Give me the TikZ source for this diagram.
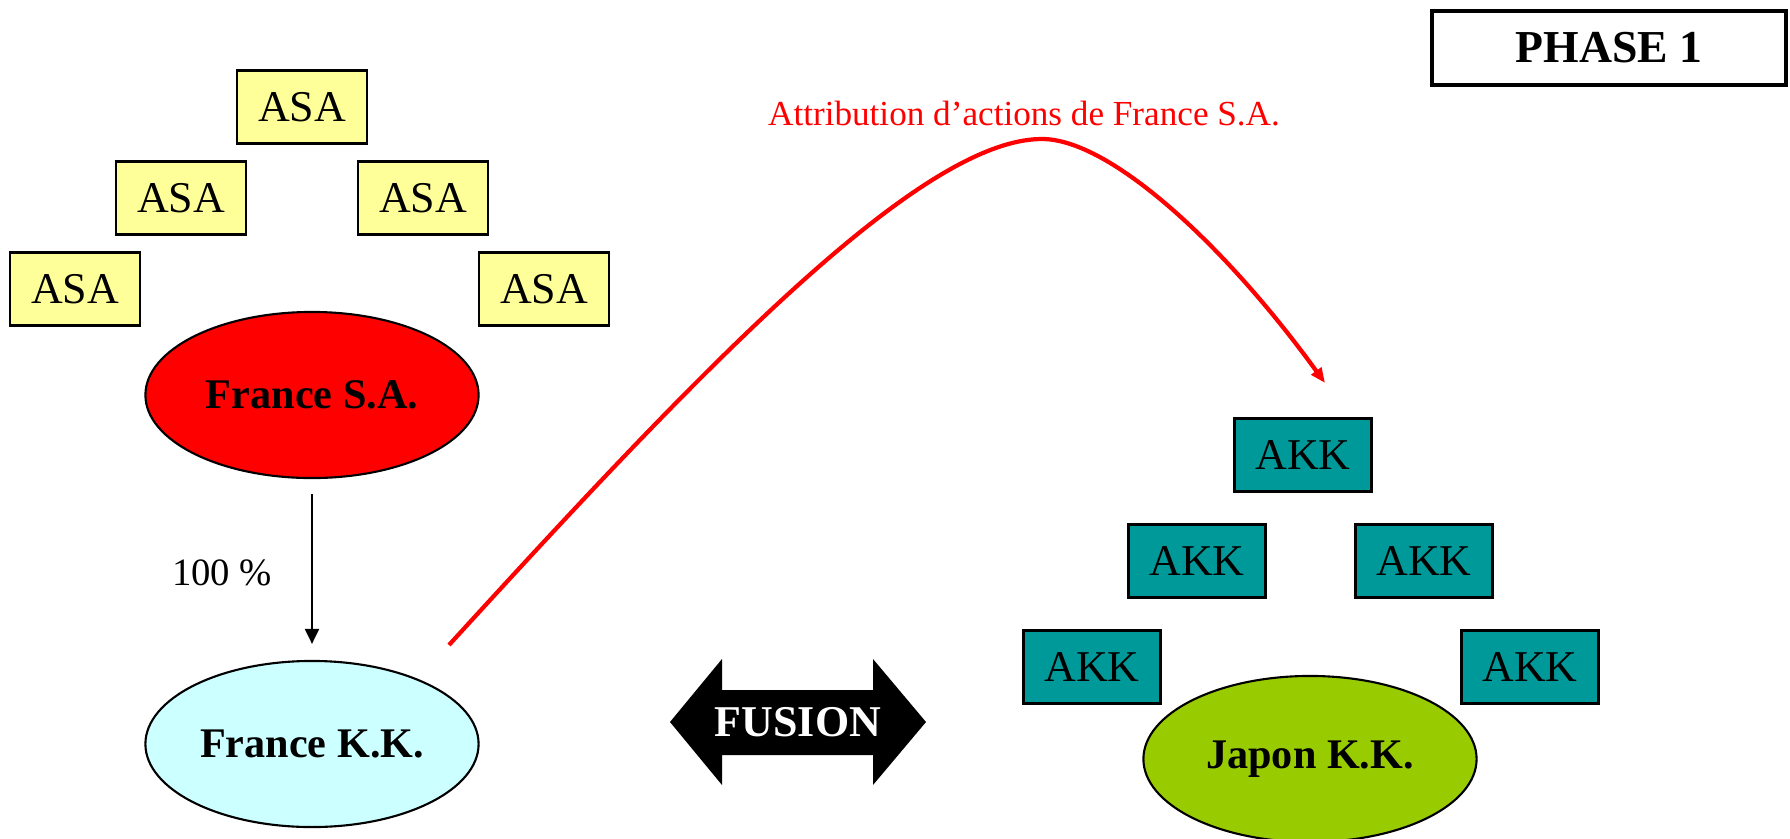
\documentclass[tikz,border=0pt]{standalone}
\usepackage{fontspec}
\setmainfont{Liberation Serif}
\usetikzlibrary{shapes,arrows.meta,positioning,calc}
\definecolor{asayellow}{HTML}{FFFF99}
\definecolor{fkkcyan}{HTML}{CCFFFF}
\definecolor{akkteal}{HTML}{009999}
\definecolor{jkkgreen}{HTML}{99CC00}

\begin{document}
\begin{tikzpicture}[x=0.01cm, y=-0.01cm,
  asa/.style={draw, line width=0.8pt, fill=asayellow, minimum width=1.30cm, minimum height=0.73cm, inner sep=0pt, font=\fontsize{12.5}{15}\selectfont},
  akk/.style={asa, fill=akkteal, minimum width=1.37cm},
  societe/.style={draw, ellipse, line width=0.6pt, minimum width=3.33cm, minimum height=1.66cm, inner sep=0pt, font=\bfseries\fontsize{12}{14}\selectfont}]
\useasboundingbox (0,0) rectangle (1790,839);

% Actionnaires de France S.A.
\node[asa] (asa1) at (302,107) {ASA};
\node[asa] (asa2) at (181,198) {ASA};
\node[asa] (asa3) at (423,198) {ASA};
\node[asa] (asa4) at (75,289) {ASA};
\node[asa] (asa5) at (544,289) {ASA};

% Sociétés
\node[societe, fill=red] (fsa) at (312,395) {France S.A.};
\node[societe, fill=fkkcyan] (fkk) at (312,744) {France K.K.};
\node[societe, fill=jkkgreen] (jkk) at (1310,759) {Japon K.K.};

% Actionnaires de Japon K.K.
\node[akk] (akk1) at (1303,455) {AKK};
\node[akk] (akk2) at (1197,561) {AKK};
\node[akk] (akk3) at (1424,561) {AKK};
\node[akk] (akk4) at (1092,667) {AKK};
\node[akk] (akk5) at (1530,667) {AKK};

% Phase
\node[draw, line width=1.2pt, minimum width=3.54cm, minimum height=0.74cm, font=\bfseries\fontsize{13}{15}\selectfont] (phase) at (1609,48) {PHASE 1};

% Fusion
\coordinate (fusionpos) at (798,722);
\fill (fusionpos) ++(-128,0) -- ++(52,-63) -- ++(0,31) -- ++(151,0) -- ++(0,-31) -- ++(53,63)
  -- ++(-53,63) -- ++(0,-30) -- ++(-151,0) -- ++(0,30) -- cycle;
\node[text=white, font=\bfseries\fontsize{12.5}{15}\selectfont] (fusion) at (fusionpos) {FUSION};

% Détention
\draw[line width=0.6pt, -{Triangle[length=0.15cm, width=0.14cm]}, shorten <=0.15cm, shorten >=0.16cm]
  (fsa) -- (fkk) node[pos=0.52, left=0.27cm, font=\fontsize{11}{13}\selectfont] (pct) {100 \%};

% Attribution
\coordinate (attrstart) at (449,645);
\coordinate (attrtop) at (1042,139);
\coordinate (attrend) at (1325,383);
\draw[red, line width=1.2pt, -{Triangle[length=0.15cm, width=0.12cm]}]
  (attrstart) .. controls (700,370) and (920,139) .. (attrtop)
  .. controls (1110,139) and (1225,245) .. (attrend);
\node[red, font=\fontsize{10}{12}\selectfont] (attrlabel) at (1024,114) {Attribution d’actions de France S.A.};
\end{tikzpicture}
\end{document}
